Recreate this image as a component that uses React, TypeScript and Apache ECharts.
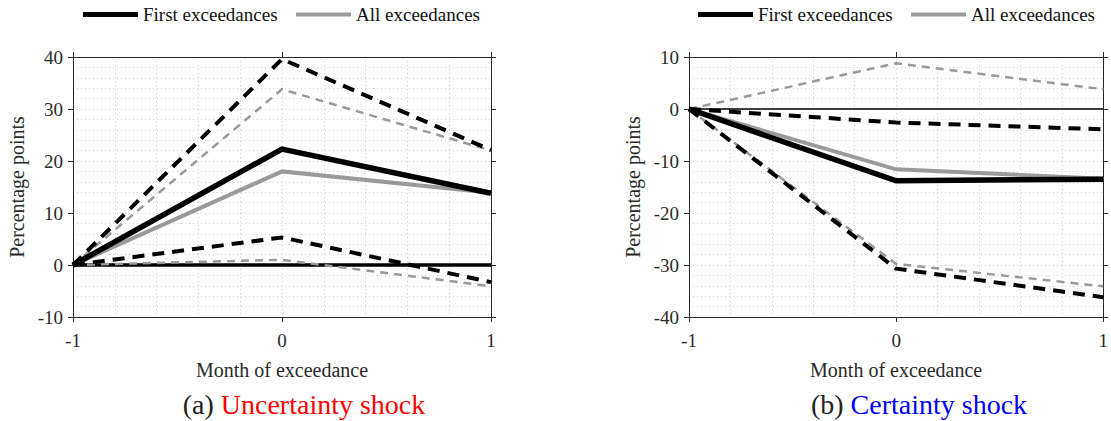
import React, { useEffect, useRef } from "react";
import * as echarts from "echarts";

const months = [-1, 0, 1];
const xTicks = ["-1", "0", "1"];
// Panel (a) Uncertainty shock
const uncFirst = [0, 22.3, 13.8];
const uncAll = [0, 18.0, 13.9];
const uncFirstUpper = [0, 39.6, 22.1];
const uncFirstLower = [0, 5.3, -3.3];
const uncAllUpper = [0, 33.8, 22.0];
const uncAllLower = [0, 1.0, -4.1];
// Panel (b) Certainty shock
const cerFirst = [0, -13.8, -13.5];
const cerAll = [0, -11.6, -13.4];
const cerFirstUpper = [0, -2.6, -3.9];
const cerFirstLower = [0, -30.7, -36.2];
const cerAllUpper = [0, 8.8, 3.8];
const cerAllLower = [0, -29.8, -34.1];
const zeroLine = [0, 0];
const zeroX = [-1, 1];

const FONT = "Liberation Serif";
const AXIS_COLOR = "#2a2a2a";
const GRID_COLOR = "#cfcfcf";
const GRID_DASH = [1, 3];
const GRAY = "#9a9a9a";

function pts(vals: number[]) {
  return vals.map((v, i) => [months[i], v]);
}

export default function App() {
  const ref = useRef<HTMLDivElement>(null);
  useEffect(() => {
    if (!ref.current) return;
    const chart = echarts.init(ref.current, undefined, { renderer: "svg" });

    const grids = [
      { left: 73, top: 57, width: 418, height: 260 },
      { left: 689, top: 57, width: 418, height: 260 },
    ];

    const mkX = (gi: number, pos: "bottom" | "top") => ({
      type: "value",
      gridIndex: gi,
      position: pos,
      min: -1,
      max: 1,
      interval: 1,
      axisLine: { show: true, onZero: false, lineStyle: { color: AXIS_COLOR, width: 1 } },
      axisTick: { show: true, inside: false, length: 5, lineStyle: { color: AXIS_COLOR } },
      minorTick: { show: false, splitNumber: 5 },
      splitLine: { show: pos === "bottom", lineStyle: { color: GRID_COLOR, type: GRID_DASH, width: 1 } },
      minorSplitLine: { show: pos === "bottom", lineStyle: { color: GRID_COLOR, type: GRID_DASH, width: 1 } },
      axisLabel: {
        show: pos === "bottom",
        margin: 14,
        color: AXIS_COLOR,
        fontFamily: FONT,
        fontSize: 19,
        formatter: (v: number) => xTicks[months.indexOf(v)] ?? String(v),
      },
      name: pos === "bottom" ? "Month of exceedance" : "",
      nameLocation: "middle",
      nameGap: 43,
      nameTextStyle: { color: AXIS_COLOR, fontFamily: FONT, fontSize: 20 },
    });

    const mkY = (gi: number, pos: "left" | "right", min: number, max: number) => ({
      type: "value",
      gridIndex: gi,
      position: pos,
      min,
      max,
      interval: 10,
      axisLine: { show: true, onZero: false, lineStyle: { color: AXIS_COLOR, width: 1 } },
      axisTick: { show: true, inside: false, length: 5, lineStyle: { color: AXIS_COLOR } },
      minorTick: { show: false, splitNumber: 5 },
      splitLine: { show: pos === "left", lineStyle: { color: GRID_COLOR, type: GRID_DASH, width: 1 } },
      minorSplitLine: { show: pos === "left", lineStyle: { color: GRID_COLOR, type: GRID_DASH, width: 1 } },
      axisLabel: {
        show: pos === "left",
        margin: 10,
        color: AXIS_COLOR,
        fontFamily: FONT,
        fontSize: 19,
      },
      name: pos === "left" ? "Percentage points" : "",
      nameLocation: "middle",
      nameGap: 46,
      nameTextStyle: { color: AXIS_COLOR, fontFamily: FONT, fontSize: 20 },
    });

    const line = (
      name: string,
      vals: number[],
      gi: number,
      color: string,
      width: number,
      type: any,
      z: number
    ) => ({
      name,
      type: "line",
      xAxisIndex: gi * 2,
      yAxisIndex: gi * 2,
      data: pts(vals),
      showSymbol: false,
      symbol: "none",
      silent: true,
      z,
      lineStyle: { color, width, type, cap: "butt", join: "miter" },
      itemStyle: { color },
    });

    const zero = (gi: number, width: number) => ({
      name: "zero" + gi,
      type: "line",
      xAxisIndex: gi * 2,
      yAxisIndex: gi * 2,
      data: zeroX.map((x, i) => [x, zeroLine[i]]),
      showSymbol: false,
      symbol: "none",
      silent: true,
      z: 2,
      lineStyle: { color: "#000", width, type: "solid" },
    });

    const dashBlack = [12, 8];
    const dashGray = [8, 6];

    const series = [
      zero(0, 3.5),
      line("a-all-up", uncAllUpper, 0, GRAY, 2.5, dashGray, 3),
      line("a-all-lo", uncAllLower, 0, GRAY, 2.5, dashGray, 3),
      line("All exceedances", uncAll, 0, GRAY, 4, "solid", 4),
      line("a-first-up", uncFirstUpper, 0, "#000", 4, dashBlack, 5),
      line("a-first-lo", uncFirstLower, 0, "#000", 4, dashBlack, 5),
      line("First exceedances", uncFirst, 0, "#000", 5.5, "solid", 6),
      zero(1, 1.5),
      line("b-all-up", cerAllUpper, 1, GRAY, 2.5, dashGray, 3),
      line("b-all-lo", cerAllLower, 1, GRAY, 2.5, dashGray, 3),
      line("All exceedances", cerAll, 1, GRAY, 4, "solid", 4),
      line("b-first-up", cerFirstUpper, 1, "#000", 4, dashBlack, 5),
      line("b-first-lo", cerFirstLower, 1, "#000", 4, dashBlack, 5),
      line("First exceedances", cerFirst, 1, "#000", 5.5, "solid", 6),
    ];

    const legendItem = (name: string, left: number, color: string, h: number) => ({
      data: [{ name, icon: "rect", itemStyle: { color } }],
      left,
      top: 5,
      orient: "horizontal",
      itemWidth: 55,
      itemHeight: h,
      itemGap: 0,
      padding: 0,
      selectedMode: false,
      textStyle: { color: "#111", fontFamily: FONT, fontSize: 19, padding: [0, 0, 0, 0] },
    });

    const option = {
      animation: false,
      backgroundColor: "#fff",
      textStyle: { fontFamily: FONT },
      grid: grids,
      xAxis: [mkX(0, "bottom"), mkX(0, "top"), mkX(1, "bottom"), mkX(1, "top")],
      yAxis: [
        mkY(0, "left", -10, 40),
        mkY(0, "right", -10, 40),
        mkY(1, "left", -40, 10),
        mkY(1, "right", -40, 10),
      ],
      legend: [
        legendItem("First exceedances", 83, "#000", 5),
        legendItem("All exceedances", 296, GRAY, 4),
        legendItem("First exceedances", 698, "#000", 5),
        legendItem("All exceedances", 911, GRAY, 4),
      ],
      series,
      graphic: [
        {
          type: "text",
          x: 304,
          y: 404,
          style: {
            text: "{k|(a) }{r|Uncertainty shock}",
            align: "center",
            verticalAlign: "middle",
            rich: {
              k: { fill: "#222", fontFamily: FONT, fontSize: 28 },
              r: { fill: "#ff0000", fontFamily: FONT, fontSize: 28 },
            },
          },
        },
        {
          type: "text",
          x: 919,
          y: 404,
          style: {
            text: "{k|(b) }{b|Certainty shock}",
            align: "center",
            verticalAlign: "middle",
            rich: {
              k: { fill: "#222", fontFamily: FONT, fontSize: 28 },
              b: { fill: "#0000ff", fontFamily: FONT, fontSize: 28 },
            },
          },
        },
      ],
    };

    chart.setOption(option as any);
    return () => chart.dispose();
  }, []);

  return (
    <div
      ref={ref}
      style={{ position: "fixed", left: 0, top: 0, width: 1111, height: 421, background: "#fff" }}
    />
  );
}
